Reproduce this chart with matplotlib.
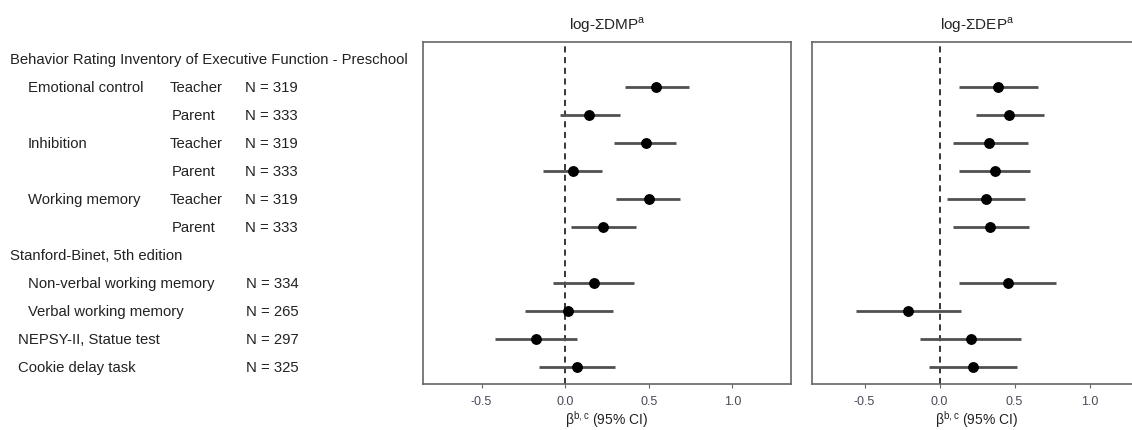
import numpy as np
import matplotlib.pyplot as plt

plt.rcParams['font.family'] = ['Liberation Sans', 'DejaVu Sans']
plt.rcParams['mathtext.fontset'] = 'custom'
plt.rcParams['mathtext.rm'] = 'Liberation Sans'

# rows: 0 = BRIEF-P header, 7 = Stanford-Binet header
rows = [1, 2, 3, 4, 5, 6, 8, 9, 10, 11]

dmp_est = [0.543, 0.144, 0.481, 0.046, 0.501, 0.228, 0.172, 0.018, -0.172, 0.068]
dmp_lo = [0.355, -0.030, 0.293, -0.134, 0.305, 0.034, -0.074, -0.240, -0.419, -0.156]
dmp_hi = [0.738, 0.325, 0.663, 0.222, 0.689, 0.423, 0.409, 0.283, 0.072, 0.297]

dep_est = [0.393, 0.465, 0.331, 0.373, 0.309, 0.338, 0.456, -0.207, 0.207, 0.222]
dep_lo = [0.131, 0.240, 0.087, 0.131, 0.053, 0.087, 0.131, -0.555, -0.127, -0.073]
dep_hi = [0.658, 0.696, 0.587, 0.602, 0.571, 0.596, 0.776, 0.145, 0.540, 0.518]

# label table: (text, x pixel, row)
headers = [("Behavior Rating Inventory of Executive Function - Preschool", 10, 0),
           ("Stanford-Binet, 5th edition", 10, 7)]
measures = [("Emotional control", 28, 1), ("Inhibition", 28, 3), ("Working memory", 28, 5),
            ("Non-verbal working memory", 28, 8), ("Verbal working memory", 28, 9),
            ("NEPSY-II, Statue test", 18, 10), ("Cookie delay task", 18, 11)]
raters = ["Teacher", "Parent", "Teacher", "Parent", "Teacher", "Parent"]
n_labels = ["N = 319", "N = 333", "N = 319", "N = 333", "N = 319", "N = 333",
            "N = 334", "N = 265", "N = 297", "N = 325"]

W, H = 1132, 431
fig = plt.figure(figsize=(W / 100, H / 100), dpi=100)

ylim = (11.6, -0.61)
ax1 = fig.add_axes([423 / W, 1 - 385 / H, 368 / W, 342 / H])
ax2 = fig.add_axes([812 / W, 1 - 385 / H, 330 / W, 342 / H])

txt_col = '#222222'
tick_col = '#4a4a5a'

for ax, est, lo, hi, title in [(ax1, dmp_est, dmp_lo, dmp_hi, 'log-ΣDMP$^{\\mathrm{a}}$'),
                                (ax2, dep_est, dep_lo, dep_hi, 'log-ΣDEP$^{\\mathrm{a}}$')]:
    ax.hlines(rows, lo, hi, color='#505050', lw=2.0, zorder=2)
    ax.plot(est, rows, 'o', color='black', ms=6.8, zorder=3)
    ax.axvline(0, color='black', lw=1.1, ls=(0, (4, 3)), zorder=1)
    ax.set_xlim(-0.85, 1.35)
    ax.set_ylim(*ylim)
    ax.set_yticks([])
    ax.set_xticks([-0.5, 0.0, 0.5, 1.0])
    ax.set_xticklabels(['-0.5', '0.0', '0.5', '1.0'])
    ax.tick_params(axis='x', length=3, width=0.8, color='#666666', labelsize=9,
                   labelcolor=tick_col, pad=5)
    for s in ax.spines.values():
        s.set_color('#666666')
        s.set_linewidth(1.2)
    ax.set_title(title, fontsize=11, color=txt_col, pad=10)
    ax.set_xlabel('β$^{\\mathrm{b,c}}$ (95% CI)', fontsize=10, color=txt_col, labelpad=1)


def ypix(r):
    return 1 - (60 + 28 * r) / H


fs = 10.7
for t, x, r in headers + measures:
    fig.text(x / W, ypix(r), t, fontsize=fs, va='center', ha='left', color=txt_col)
for i, t in enumerate(raters):
    x = 170 if t == "Teacher" else 172
    fig.text(x / W, ypix(rows[i]), t, fontsize=fs, va='center', ha='left', color=txt_col)
for i, t in enumerate(n_labels):
    x = 246 if rows[i] > 6 else 245
    fig.text(x / W, ypix(rows[i]), t, fontsize=fs, va='center', ha='left', color=txt_col)

fig.savefig('out.png', dpi=100, facecolor='white')
